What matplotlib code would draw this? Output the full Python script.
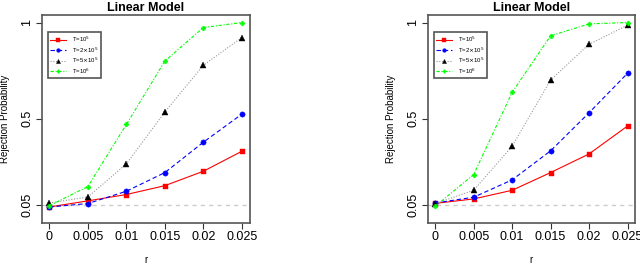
import numpy as np
import matplotlib
matplotlib.use('Agg')
import matplotlib.pyplot as plt

matplotlib.rcParams['font.family'] = "Liberation Sans"

# Data
r_values = [0, 0.005, 0.01, 0.015, 0.02, 0.025]
r_labels = ['0', '0.005', '0.01', '0.015', '0.02', '0.025']
y_ticks = [0.05, 0.5, 1]
y_labels = ['0.05', '0.5', '1']
series_labels = [r'T=10$^5$', r'T=2$\times$10$^5$', r'T=5$\times$10$^5$', r'T=10$^6$']

left_t1e5 = [0.041, 0.073, 0.106, 0.152, 0.227, 0.331]
left_t2e5 = [0.041, 0.059, 0.123, 0.220, 0.378, 0.524]
left_t5e5 = [0.062, 0.093, 0.265, 0.535, 0.778, 0.922]
left_t1e6 = [0.048, 0.147, 0.470, 0.800, 0.974, 1.000]

right_t1e5 = [0.060, 0.083, 0.128, 0.220, 0.317, 0.462]
right_t2e5 = [0.062, 0.092, 0.182, 0.333, 0.531, 0.736]
right_t5e5 = [0.059, 0.128, 0.357, 0.701, 0.887, 0.986]
right_t1e6 = [0.045, 0.210, 0.637, 0.931, 0.993, 1.000]

# Plot styles
line_colors = ['#ff0000', '#0000ff', '#999999', '#00ff00']
marker_colors = ['#ff0000', '#0000ff', 'black', '#00ff00']
markers = ['s', 'o', '^', 'P']
marker_sizes = [3.6, 3.8, 4.2, 3.4]
linestyles = ['solid', (0, (4, 2.5)), (0, (1, 1.5)), (0, (3, 1.5, 1, 1.5))]
fontsize = 9

fig = plt.figure(figsize=(6.4, 2.65), dpi=100)
fig.patch.set_facecolor('white')
positions = [[0.065, 0.160, 0.325, 0.784], [0.668, 0.160, 0.3245, 0.784]]
panels = [
    [left_t1e5, left_t2e5, left_t5e5, left_t1e6],
    [right_t1e5, right_t2e5, right_t5e5, right_t1e6],
]

for pos, data in zip(positions, panels):
    ax = fig.add_axes(pos)
    ax.axhline(0.05, color='#cccccc', lw=1, linestyle=(0, (3, 3)), zorder=1)
    handles = []
    for vals, lc, mc, m, ms, ls, lab in zip(data, line_colors, marker_colors,
                                            markers, marker_sizes, linestyles,
                                            series_labels):
        h, = ax.plot(r_values, vals, color=lc, lw=0.8, linestyle=ls,
                     marker=m, markersize=ms, markerfacecolor=mc,
                     markeredgecolor=mc, markeredgewidth=0.3, label=lab, zorder=3)
        handles.append(h)
    ax.set_xlim(-0.001, 0.026)
    ax.set_ylim(-0.04, 1.04)
    ax.set_xticks(r_values)
    ax.set_xticklabels(r_labels, fontsize=fontsize)
    ax.set_yticks(y_ticks)
    ax.set_yticklabels(y_labels, fontsize=fontsize, rotation=90, va='center')
    ax.tick_params(axis='both', length=4, width=0.8, color='#333333', pad=2)
    for s in ax.spines.values():
        s.set_color('#555555')
        s.set_linewidth(1.2)
    ax.set_title('Linear Model', fontsize=9, fontweight='bold', pad=3)
    ax.set_xlabel('r', fontsize=7, labelpad=9)
    ax.set_ylabel('Rejection Probability', fontsize=7, labelpad=8)
    leg = ax.legend(handles=handles, loc='upper left', bbox_to_anchor=(0.03, 0.915),
                    fontsize=4.3, frameon=True, fancybox=False, framealpha=1,
                    handlelength=2.6, borderpad=0.4, labelspacing=0.2,
                    handletextpad=1.0, markerscale=0.7, borderaxespad=0)
    leg.get_frame().set_edgecolor('#555555')
    leg.get_frame().set_linewidth(1.2)

plt.savefig('out.png', dpi=100)
